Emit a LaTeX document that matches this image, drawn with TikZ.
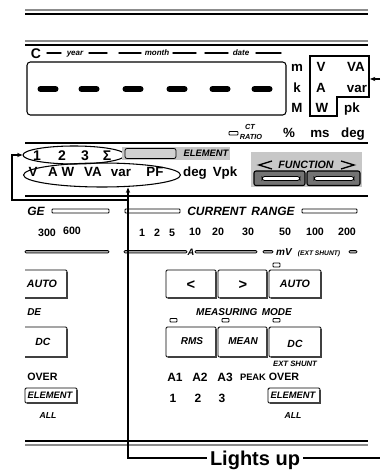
\documentclass[tikz,border=0pt]{standalone}
\usepackage{fontspec}
\setmainfont{Liberation Sans}
\usetikzlibrary{shapes.geometric,arrows.meta}
\newcommand{\pbtn}[4]{%
  \draw[btnline] (#1,#2) rectangle (#3,#4);
  \draw[btnshadow] ({#1+1.5},#4) -- (#3,#4) -- (#3,{#2+1.5});}
\begin{document}
\begin{tikzpicture}[x=0.75pt,y=-0.75pt,
  tb/.style={inner sep=0pt, anchor=base, yshift={-0.358*#1pt}, font=\fontsize{#1}{#1}\selectfont\bfseries},
  tb/.default=9,
  tbi/.style={inner sep=0pt, anchor=base, yshift={-0.358*#1pt}, font=\fontsize{#1}{#1}\selectfont\bfseries\itshape},
  tbi/.default=7,
  rule/.style={line width=0.8pt, black},
  brule/.style={line width=1.2pt, black},
  grule/.style={line width=1.2pt, black!45},
  seg/.style={line width=4.5pt, line cap=round},
  dashl/.style={line width=1.1pt, line cap=round},
  lamp/.style={draw, line width=0.7pt, fill=white, rounded corners=0.6pt},
  scalebar/.style={draw, line width=0.5pt, fill=black!35, rounded corners=0.8pt},
  btnline/.style={line width=0.7pt, rounded corners=1pt},
  btnshadow/.style={line width=1.5pt, black!75},
  conn/.style={line width=0.8pt},
  conarrow/.style={line width=0.8pt, -{Stealth[length=4pt,width=3.2pt]}},
  oval/.style={draw, ellipse, line width=0.8pt, inner sep=0pt},
  panelgray/.style={fill=black!22},
]
\useasboundingbox (0,0) rectangle (380,473);

% horizontal rules
\draw[grule] (25,10) -- (368,10);
\draw[brule] (25,14) -- (368,14);
\draw[grule] (25,41) -- (368,41);
\draw[rule] (25,45) -- (368,45);
\draw[rule] (25,143) -- (368,143);
\draw[rule] (25,196) -- (368,196);
\draw[rule] (25,441) -- (368,441);
\draw[grule] (25,445) -- (368,445);

% date row
\node[tb=10.5] (C) at (36,53) {C};
\draw[dashl] (47,53) -- (61,53);
\node[tbi=6] (yr) at (75,53) {year};
\draw[dashl] (89,53) -- (107,53);
\draw[dashl] (119,53) -- (141,53);
\node[tbi=6] (mo) at (157,53) {month};
\draw[dashl] (173,53) -- (196,53);
\draw[dashl] (205,53) -- (228,53);
\node[tbi=6] (da) at (241,53) {date};
\draw[dashl] (256,53) -- (281,53);

% display
\draw[line width=0.8pt, rounded corners=2.5pt] (27,62) rectangle (286,115);
\foreach \cx in {48,89,133,177,220,262} \draw[seg] (\cx-7.5,89) -- (\cx+7.5,89);

% units
\node[tb=10] (um) at (297,67) {m};
\node[tb=10] (uk) at (297,88) {k};
\node[tb=10] (uM) at (297,108) {M};
\draw[line width=0.8pt] (310,56) -- (369,56) -- (369,97) -- (337,97) -- (337,116) -- (310,116) -- cycle;
\node[tb=10] (uV) at (321,67) {V};
\node[tb=10] (uVA) at (356,67) {VA};
\node[tb=10] (uA) at (321,88) {A};
\node[tb=10] (uvar) at (357,88) {var};
\node[tb=10] (uW) at (322,108) {W};
\node[tb=10] (upk) at (352,108) {pk};
\coordinate (rtop) at (380,79);
\coordinate (boxR) at (370,79);
\draw[conarrow] (rtop) -- (boxR);

% CT ratio row
\draw[lamp] (229,131.5) rectangle (238,135);
\node[tbi=5.5] (ct) at (250,127) {CT};
\node[tbi=5.5] (ratio) at (251,136.5) {RATIO};
\node[tb=10] (pct) at (289,133) {\%};
\node[tb=10] (ms) at (320,133) {ms};
\node[tb=10] (deg1) at (353,133) {deg};

% element row
\node[tb=10.5] (n1) at (37,155) {1};
\node[tb=10.5] (n2) at (62,155) {2};
\node[tb=10.5] (n3) at (85,155) {3};
\node[tb=10.5] (nS) at (107,155) {Σ};
\node[oval, minimum width=76.5pt, minimum height=13.5pt] (e1) at (74,155) {};
\fill[panelgray] (122,147) rectangle (230,160);
\draw[line width=0.6pt, fill=black!18, rounded corners=1.5pt] (125,148.5) rectangle (176,158.5);
\node[tbi=7] (elem1) at (206,153.5) {ELEMENT};

\node[tb=10] (fV) at (33,172) {V};
\node[tb=10] (fA) at (53,172) {A};
\node[tb=10] (fW) at (68,172) {W};
\node[tb=10] (fVA) at (93,172) {VA};
\node[tb=10] (fvar) at (121,172) {var};
\node[tb=10] (fPF) at (155,172) {PF};
\node[oval, minimum width=117.75pt, minimum height=18pt] (e2) at (102,175) {};
\node[tb=10] (fdeg) at (195,172) {deg};
\node[tb=10] (fVpk) at (225,172) {Vpk};

% function box
\fill[panelgray] (251,152) rectangle (362,187);
\draw[line width=1pt] (272,161) -- (259,165) -- (272,169);
\draw[line width=1pt] (341,161) -- (354,165) -- (341,169);
\node[tbi=8] (func) at (306,165) {FUNCTION};
\draw[line width=0.8pt, fill=black!55, rounded corners=1.5pt] (254,171) rectangle (305,185.5);
\draw[line width=0.8pt, fill=black!55, rounded corners=1.5pt] (307,171) rectangle (360,185.5);
\draw[line width=0.6pt, fill=white, rounded corners=2pt] (262,176.5) rectangle (300,180.5);
\draw[line width=0.6pt, fill=white, rounded corners=2pt] (314,176.5) rectangle (354,180.5);

% range row
\node[tbi=9, anchor=base west] (ge) at (27,211) {GE};
\draw[lamp] (52,209) rectangle (109,213);
\draw[lamp] (125,209) rectangle (180,213);
\node[tbi=9] (cr) at (241,211) {CURRENT\hspace{0.45em}RANGE};
\draw[lamp] (302,209) rectangle (357,213);

\node[tb=8] (r300) at (47,233) {300};
\node[tb=8] (r600) at (72,231) {600};
\node[tb=8] (r1) at (142,233) {1};
\node[tb=8] (r2) at (157,233) {2};
\node[tb=8] (r5) at (172,233) {5};
\node[tb=8] (r10) at (195,232) {10};
\node[tb=8] (r20) at (218,232) {20};
\node[tb=8] (r30) at (248,232) {30};
\node[tb=8] (r50) at (285,232) {50};
\node[tb=8] (r100) at (315,232) {100};
\node[tb=8] (r200) at (347,232) {200};

\draw[scalebar] (25,250.5) rectangle (109,253);
\draw[scalebar] (124,250.5) rectangle (187,253);
\node[tbi=7] (sA) at (191,252) {A};
\draw[scalebar] (195,250.5) rectangle (257,253);
\draw[scalebar] (263,250.5) rectangle (273,253);
\node[tbi=7.5] (smV) at (284,252) {mV};
\node[tbi=5] (sext) at (319,253) {(EXT SHUNT)};
\draw[scalebar] (349,250.5) rectangle (357,253);
\draw[lamp] (273,263) rectangle (280,267);

% buttons row 1
\draw[btnline] (25,270) -- (67,270) -- (67,298) -- (25,298);
\draw[btnshadow] (25,298) -- (67,298) -- (67,271.5);
\node[tbi=8] (bauto1) at (42,284) {AUTO};
\pbtn{166}{270}{216}{298}
\pbtn{218}{270}{267}{298}
\pbtn{269}{270}{321}{298}
\node[tb=11] (blt) at (191,284) {<};
\node[tb=11] (bgt) at (243,284) {>};
\node[tbi=8] (bauto2) at (295,284) {AUTO};

\node[tbi=7.5, anchor=base west] (de) at (27,312) {DE};
\node[tbi=7.5] (mm) at (244,312) {MEASURING\hspace{0.45em}MODE};
\draw[lamp] (170,318.5) rectangle (177,322);
\draw[lamp] (222,318.5) rectangle (229,322);
\draw[lamp] (273,318.5) rectangle (280,322);

% buttons row 2
\draw[btnline] (25,327) -- (67,327) -- (67,357) -- (25,357);
\draw[btnshadow] (25,357) -- (67,357) -- (67,328.5);
\node[tbi=7.8] (bdc1) at (43,342) {DC};
\pbtn{166}{327}{216}{357}
\pbtn{218}{327}{267}{357}
\pbtn{269}{327}{321}{357}
\node[tbi=7.5] (brms) at (192,341) {RMS};
\node[tbi=7.5] (bmean) at (243,341) {MEAN};
\node[tbi=7.8] (bdc2) at (295,344) {DC};
\node[tbi=5.8] (extsh) at (295,364) {EXT SHUNT};

% over row
\node[tb=8, anchor=base west] (over1) at (27,377) {OVER};
\node[tb=9] (a1) at (175,377) {A1};
\node[tb=9] (a2) at (200,377) {A2};
\node[tb=9] (a3) at (225,377) {A3};
\node[tb=7] (peak) at (253,377) {PEAK};
\node[tb=8] (over2) at (284,377) {OVER};

\pbtn{25}{388}{77}{403}
\node[tbi=7] (el1) at (50,395.5) {ELEMENT};
\pbtn{268}{388}{320}{403}
\node[tbi=7] (el2) at (293,395.5) {ELEMENT};
\node[tb=9] (b1) at (173,398) {1};
\node[tb=9] (b2) at (198,398) {2};
\node[tb=9] (b3) at (222,398) {3};
\node[tbi=6.5] (all1) at (48,415) {ALL};
\node[tbi=6.5] (all2) at (293,415) {ALL};

% lights up connectors
\node[tb=15] (lu) at (255,458) {Lights up};
\coordinate (j1) at (128,458);
\coordinate (j2) at (128,200);
\coordinate (j3) at (12,200);
\coordinate (rbot) at (380,458);
\draw[conarrow] (j1 -| lu.west) ++(-3,0) -- (j1) -- (j1 |- e2.south);
\draw[conarrow] (j2) -- (j3) -- (j3 |- e1.west) -- (e1.west);
\draw[conn] (j1 -| lu.east) ++(3,0) -- (rbot);
\end{tikzpicture}
\end{document}
